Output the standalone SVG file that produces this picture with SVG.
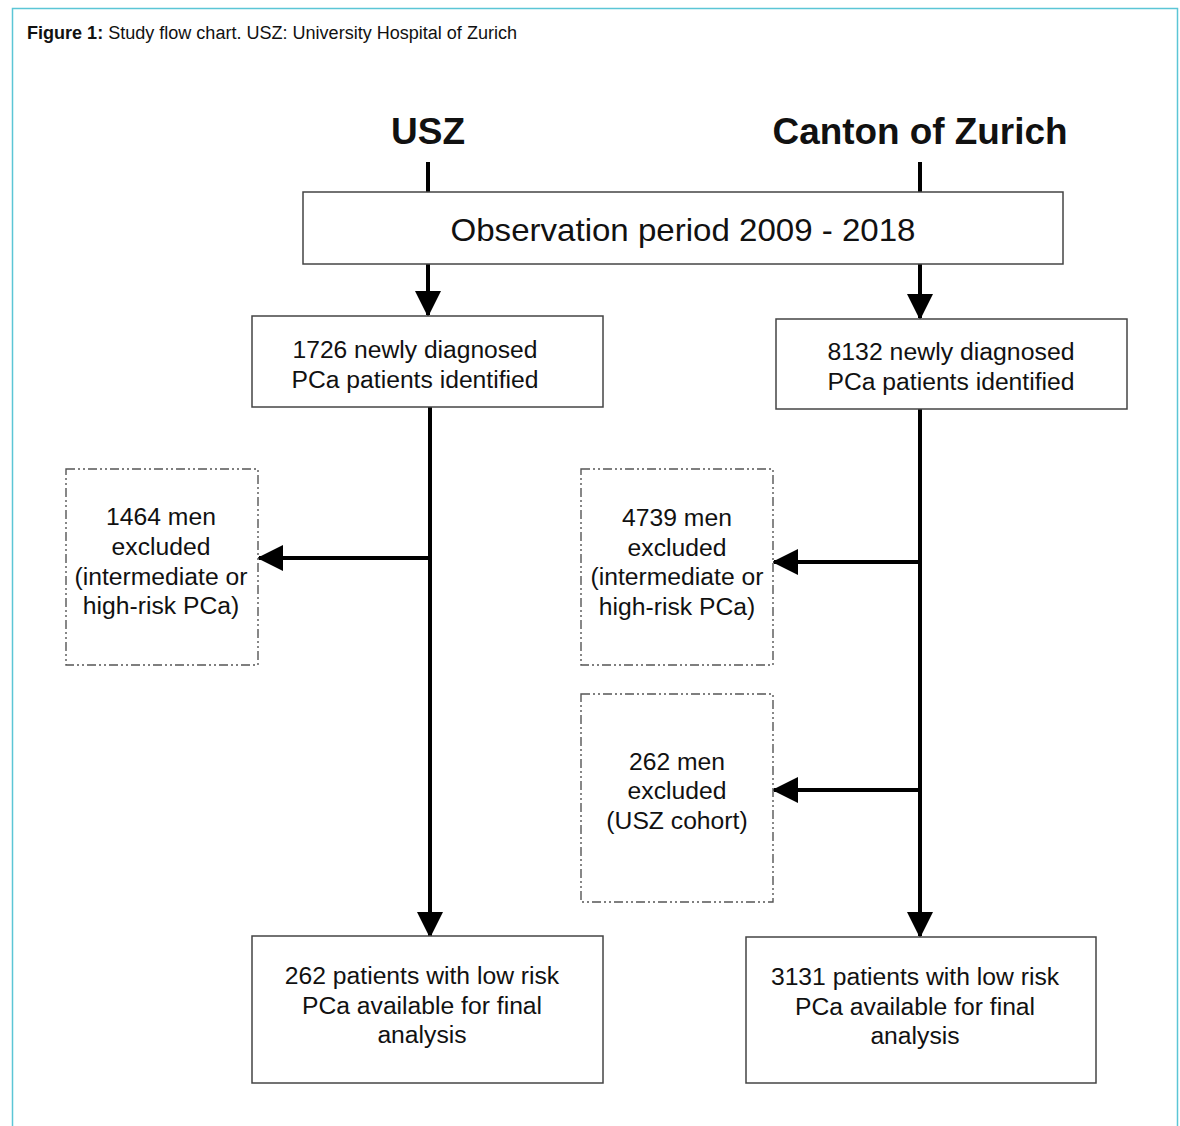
<svg xmlns="http://www.w3.org/2000/svg" width="1180" height="1126" viewBox="0 0 1180 1126">
<style>
text{font-family:"Liberation Sans",Arial,sans-serif;fill:#111;}
.t{font-size:24.7px;text-anchor:middle;}
.box{fill:#fff;stroke:#444;stroke-width:1.5;}
.dbox{fill:#fff;stroke:#555;stroke-width:1.4;stroke-dasharray:9,3,2,3,2,3;}
.ln{stroke:#000;stroke-width:4;fill:none;}
</style>
<defs>
<marker id="ah" markerUnits="userSpaceOnUse" markerWidth="26" markerHeight="26" viewBox="0 0 26 26" refX="24" refY="13" orient="auto">
<path d="M0,0 L26,13 L0,26 Z" fill="#000"/>
</marker>
</defs>
<rect x="12.5" y="8.5" width="1165" height="1140" fill="#fff" stroke="#5cc6d6" stroke-width="1.5"/>
<text x="27" y="39" style="font-size:18px" textLength="490" lengthAdjust="spacingAndGlyphs"><tspan font-weight="bold">Figure 1:</tspan> Study flow chart. USZ: University Hospital of Zurich</text>

<text x="428" y="144" style="font-size:37px;font-weight:bold;text-anchor:middle" textLength="74" lengthAdjust="spacingAndGlyphs">USZ</text>
<text x="920" y="144" style="font-size:37px;font-weight:bold;text-anchor:middle" textLength="295" lengthAdjust="spacingAndGlyphs">Canton of Zurich</text>

<g id="connectors">
<line class="ln" x1="428" y1="162" x2="428" y2="193"/>
<line class="ln" x1="920" y1="162" x2="920" y2="193"/>
<line class="ln" x1="428" y1="264" x2="428" y2="315" marker-end="url(#ah)"/>
<line class="ln" x1="920" y1="264" x2="920" y2="318" marker-end="url(#ah)"/>
<line class="ln" x1="430" y1="407" x2="430" y2="936" marker-end="url(#ah)"/>
<line class="ln" x1="430" y1="558" x2="259" y2="558" marker-end="url(#ah)"/>
<line class="ln" x1="920" y1="409" x2="920" y2="936" marker-end="url(#ah)"/>
<line class="ln" x1="920" y1="562" x2="774" y2="562" marker-end="url(#ah)"/>
<line class="ln" x1="920" y1="790" x2="774" y2="790" marker-end="url(#ah)"/>
</g>

<g id="obs">
<rect class="box" x="303" y="192" width="760" height="72"/>
<text class="t" x="683" y="241" style="font-size:32px" textLength="465" lengthAdjust="spacingAndGlyphs">Observation period 2009 - 2018</text>
</g>
<g id="usz1726">
<rect class="box" x="252" y="316" width="351" height="91"/>
<text class="t" x="415" y="358" textLength="245" lengthAdjust="spacingAndGlyphs">1726 newly diagnosed</text>
<text class="t" x="415" y="388" textLength="247" lengthAdjust="spacingAndGlyphs">PCa patients identified</text>
</g>
<g id="cz8132">
<rect class="box" x="776" y="319" width="351" height="90"/>
<text class="t" x="951" y="360" textLength="247" lengthAdjust="spacingAndGlyphs">8132 newly diagnosed</text>
<text class="t" x="951" y="390" textLength="247" lengthAdjust="spacingAndGlyphs">PCa patients identified</text>
</g>
<g id="ex1464">
<rect class="dbox" x="66" y="469" width="192" height="196"/>
<text class="t" x="161" y="525">1464 men</text>
<text class="t" x="161" y="555">excluded</text>
<text class="t" x="161" y="585">(intermediate or</text>
<text class="t" x="161" y="614">high-risk PCa)</text>
</g>
<g id="ex4739">
<rect class="dbox" x="581" y="469" width="192" height="196"/>
<text class="t" x="677" y="526">4739 men</text>
<text class="t" x="677" y="556">excluded</text>
<text class="t" x="677" y="585">(intermediate or</text>
<text class="t" x="677" y="615">high-risk PCa)</text>
</g>
<g id="ex262">
<rect class="dbox" x="581" y="694" width="192" height="208"/>
<text class="t" x="677" y="770">262 men</text>
<text class="t" x="677" y="799">excluded</text>
<text class="t" x="677" y="829">(USZ cohort)</text>
</g>
<g id="final262">
<rect class="box" x="252" y="936" width="351" height="147"/>
<text class="t" x="422" y="984">262 patients with low risk</text>
<text class="t" x="422" y="1014">PCa available for final</text>
<text class="t" x="422" y="1043">analysis</text>
</g>
<g id="final3131">
<rect class="box" x="746" y="937" width="350" height="146"/>
<text class="t" x="915" y="985">3131 patients with low risk</text>
<text class="t" x="915" y="1015">PCa available for final</text>
<text class="t" x="915" y="1044">analysis</text>
</g>
</svg>
